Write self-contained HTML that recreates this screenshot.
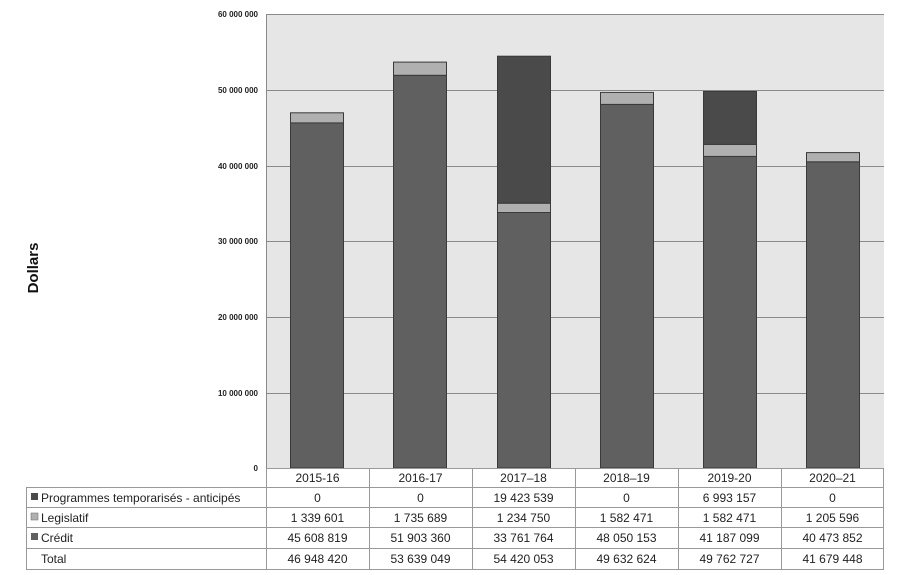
<!DOCTYPE html>
<html><head><meta charset="utf-8"><style>
html,body{margin:0;padding:0;background:#fff;}
svg{display:block}
text{font-family:"Liberation Sans",sans-serif;}
</style></head><body>
<svg width="900" height="575" viewBox="0 0 900 575" xmlns="http://www.w3.org/2000/svg">
<rect x="266" y="14" width="618" height="454" fill="#e6e6e6"/>
<g stroke="#8a8a8a" stroke-width="1">
<line x1="266" y1="14.5" x2="884" y2="14.5"/>
<line x1="266" y1="90.5" x2="884" y2="90.5"/>
<line x1="266" y1="166.5" x2="884" y2="166.5"/>
<line x1="266" y1="241.5" x2="884" y2="241.5"/>
<line x1="266" y1="317.5" x2="884" y2="317.5"/>
<line x1="266" y1="393.5" x2="884" y2="393.5"/>
<line x1="266.5" y1="14" x2="266.5" y2="468"/>
</g>
<g font-size="8" font-weight="bold" text-anchor="end" fill="#222">
<text x="258" y="17">60 000 000</text>
<text x="258" y="93">50 000 000</text>
<text x="258" y="169">40 000 000</text>
<text x="258" y="244">30 000 000</text>
<text x="258" y="320">20 000 000</text>
<text x="258" y="396">10 000 000</text>
<text x="258" y="471">0</text>
</g>
<text transform="translate(38,268) rotate(-90)" font-size="15" font-weight="bold" text-anchor="middle" fill="#111">Dollars</text>
<g stroke="#3a3a3a" stroke-width="1">
<rect x="290.5" y="122.9" width="53" height="345.1" fill="#606060"/>
<rect x="290.5" y="112.8" width="53" height="10.1" fill="#b0b0b0"/>
<rect x="393.5" y="75.3" width="53" height="392.7" fill="#606060"/>
<rect x="393.5" y="62.1" width="53" height="13.2" fill="#b0b0b0"/>
<rect x="497.5" y="212.5" width="53" height="255.5" fill="#606060"/>
<rect x="497.5" y="203.2" width="53" height="9.3" fill="#b0b0b0"/>
<rect x="497.5" y="56.2" width="53" height="147" fill="#4a4a4a"/>
<rect x="600.5" y="104.4" width="53" height="363.6" fill="#606060"/>
<rect x="600.5" y="92.4" width="53" height="12" fill="#b0b0b0"/>
<rect x="703.5" y="156.4" width="53" height="311.6" fill="#606060"/>
<rect x="703.5" y="144.4" width="53" height="12" fill="#b0b0b0"/>
<rect x="703.5" y="91.5" width="53" height="52.9" fill="#4a4a4a"/>
<rect x="806.5" y="161.8" width="53" height="306.2" fill="#606060"/>
<rect x="806.5" y="152.6" width="53" height="9.2" fill="#b0b0b0"/>
</g>
<g stroke="#999" stroke-width="1" fill="none">
<line x1="266" y1="468.5" x2="884" y2="468.5"/>
<line x1="26" y1="487.5" x2="884" y2="487.5"/>
<line x1="26" y1="507.5" x2="884" y2="507.5"/>
<line x1="26" y1="527.5" x2="884" y2="527.5"/>
<line x1="26" y1="548.5" x2="884" y2="548.5"/>
<line x1="26" y1="569.5" x2="884" y2="569.5"/>
<line x1="26.5" y1="487" x2="26.5" y2="570"/>
<line x1="266.5" y1="468" x2="266.5" y2="570"/>
<line x1="369.5" y1="468" x2="369.5" y2="570"/>
<line x1="472.5" y1="468" x2="472.5" y2="570"/>
<line x1="575.5" y1="468" x2="575.5" y2="570"/>
<line x1="678.5" y1="468" x2="678.5" y2="570"/>
<line x1="781.5" y1="468" x2="781.5" y2="570"/>
<line x1="883.5" y1="468" x2="883.5" y2="570"/>
</g>
<rect x="31" y="493" width="7" height="7" fill="#4a4a4a"/>
<rect x="31" y="513" width="7" height="7" fill="#b0b0b0" stroke="#666" stroke-width="0.5"/>
<rect x="31" y="533" width="7" height="7" fill="#606060"/>
<g font-size="12" fill="#222">
<text x="41" y="502">Programmes temporarisés - anticipés</text>
<text x="41" y="522">Legislatif</text>
<text x="41" y="542">Crédit</text>
<text x="41" y="563">Total</text>
</g>
<g font-size="12" fill="#222" text-anchor="middle">
<text x="317.5" y="482">2015-16</text><text x="420.5" y="482">2016-17</text><text x="523.5" y="482">2017–18</text><text x="626.5" y="482">2018–19</text><text x="729.5" y="482">2019-20</text><text x="832.5" y="482">2020–21</text>
<text x="317.5" y="502">0</text><text x="420.5" y="502">0</text><text x="523.5" y="502">19 423 539</text><text x="626.5" y="502">0</text><text x="729.5" y="502">6 993 157</text><text x="832.5" y="502">0</text>
<text x="317.5" y="522">1 339 601</text><text x="420.5" y="522">1 735 689</text><text x="523.5" y="522">1 234 750</text><text x="626.5" y="522">1 582 471</text><text x="729.5" y="522">1 582 471</text><text x="832.5" y="522">1 205 596</text>
<text x="317.5" y="542">45 608 819</text><text x="420.5" y="542">51 903 360</text><text x="523.5" y="542">33 761 764</text><text x="626.5" y="542">48 050 153</text><text x="729.5" y="542">41 187 099</text><text x="832.5" y="542">40 473 852</text>
<text x="317.5" y="563">46 948 420</text><text x="420.5" y="563">53 639 049</text><text x="523.5" y="563">54 420 053</text><text x="626.5" y="563">49 632 624</text><text x="729.5" y="563">49 762 727</text><text x="832.5" y="563">41 679 448</text>
</g>
</svg>
</body></html>
